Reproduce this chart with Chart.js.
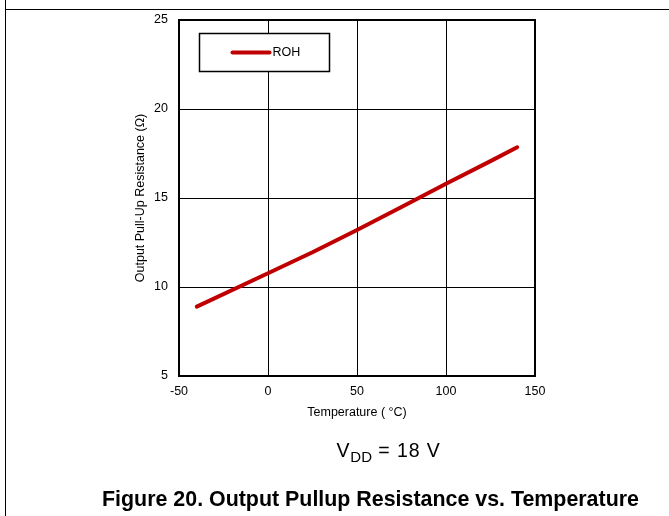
<!DOCTYPE html>
<html>
<head>
<meta charset="utf-8">
<script src="https://cdn.jsdelivr.net/npm/chart.js@4"></script>
<style>
  html, body { margin: 0; padding: 0; background: #fff; }
  #page { position: relative; width: 669px; height: 516px; overflow: hidden; font-family: "Liberation Sans", Arial, sans-serif; color: #000; }
  #chart { position: absolute; left: 0; top: 0; }
  .rule-v { position: absolute; left: 5px; top: 0; width: 1px; height: 516px; background: #000; }
  .rule-h { position: absolute; left: 5px; top: 9px; width: 664px; height: 1px; background: #000; }
  #vdd { position: absolute; left: 0; width: 669px; top: 439px; padding-left: 108px; box-sizing: border-box; text-align: center; font-size: 19.5px; letter-spacing: 0.9px; white-space: nowrap; }
  #vdd sub { font-size: 15px; vertical-align: -5px; letter-spacing: 0; }
  #caption { position: absolute; left: 0; width: 669px; top: 487px; padding-left: 72px; box-sizing: border-box; text-align: center; font-size: 21.4px; font-weight: bold; white-space: nowrap; }
</style>
</head>
<body>
<div id="page">
  <div class="rule-v"></div>
  <div class="rule-h"></div>
  <canvas id="chart" width="669" height="516"></canvas>
  <div id="vdd">V<sub>DD</sub> = 18 V</div>
  <div id="caption">Figure 20. Output Pullup Resistance vs. Temperature</div>
</div>
<script>
// Data
const temps = [-40, 0, 25, 50, 75, 100, 125, 140];
const roh = [8.9, 10.77, 11.95, 13.2, 14.5, 15.8, 17.07, 17.85];
const seriesLabel = 'ROH';

const xTicks = [-50, 0, 50, 100, 150];
const yTicks = [5, 10, 15, 20, 25];

const FONT = '"Liberation Sans", Arial, sans-serif';
const lineColor = '#c00000';

// plot frame on all four sides
const frame = {
    id: 'frame',
    beforeDatasetsDraw(chart) {
        const { ctx, chartArea: a } = chart;
        ctx.save();
        ctx.strokeStyle = '#000';
        ctx.lineWidth = 2;
        ctx.strokeRect(a.left, a.top, a.right - a.left, a.bottom - a.top);
        ctx.restore();
    }
};

// boxed legend inside the plot, top left
const boxLegend = {
    id: 'boxLegend',
    afterDatasetsDraw(chart) {
        const { ctx, chartArea: a } = chart;
        const ds = chart.data.datasets[0];
        const bx = a.left + 20.5, by = a.top + 13.5;
        ctx.save();
        ctx.fillStyle = '#fff';
        ctx.fillRect(bx, by, 130, 38);
        ctx.strokeStyle = '#000';
        ctx.lineWidth = 1.5;
        ctx.strokeRect(bx, by, 130, 38);
        ctx.strokeStyle = ds.borderColor;
        ctx.lineWidth = 4;
        ctx.lineCap = 'round';
        ctx.beginPath();
        ctx.moveTo(bx + 33, by + 19);
        ctx.lineTo(bx + 70, by + 19);
        ctx.stroke();
        ctx.fillStyle = '#000';
        ctx.font = '12.5px ' + FONT;
        ctx.textBaseline = 'middle';
        ctx.fillText(ds.label, bx + 73, by + 19.5);
        ctx.restore();
    }
};

new Chart(document.getElementById('chart'), {
    type: 'line',
    data: {
        datasets: [{
            label: seriesLabel,
            data: temps.map((t, i) => ({ x: t, y: roh[i] })),
            borderColor: lineColor,
            backgroundColor: lineColor,
            borderWidth: 4,
            borderCapStyle: 'round',
            borderJoinStyle: 'round',
            pointRadius: 0,
            tension: 0
        }]
    },
    options: {
        responsive: false,
        animation: false,
        layout: { padding: { left: 0, top: 20, right: 134, bottom: 0 } },
        plugins: { legend: { display: false }, tooltip: { enabled: false } },
        scales: {
            x: {
                type: 'linear',
                min: -50,
                max: 150,
                afterBuildTicks: s => { s.ticks = xTicks.map(v => ({ value: v })); },
                afterFit: s => { s.height = 140; },
                grid: { color: '#000', lineWidth: 1, drawTicks: false },
                border: { display: false },
                ticks: { color: '#000', padding: 8, font: { family: FONT, size: 12.5 }, maxRotation: 0 },
                title: {
                    display: true,
                    text: 'Temperature ( °C)',
                    color: '#000',
                    font: { family: FONT, size: 12.5 },
                    padding: { top: 0, bottom: 96 }
                }
            },
            y: {
                min: 5,
                max: 25,
                afterBuildTicks: s => { s.ticks = yTicks.map(v => ({ value: v })); },
                afterFit: s => { s.width = 179; },
                grid: { color: '#000', lineWidth: 1, drawTicks: false },
                border: { display: false },
                ticks: { color: '#000', padding: 11, font: { family: FONT, size: 12.5 } },
                title: {
                    display: true,
                    text: 'Output Pull-Up Resistance (Ω)',
                    color: '#000',
                    font: { family: FONT, size: 12.5 },
                    padding: { top: 133, bottom: 0 }
                }
            }
        }
    },
    plugins: [frame, boxLegend]
});
</script>
</body>
</html>
